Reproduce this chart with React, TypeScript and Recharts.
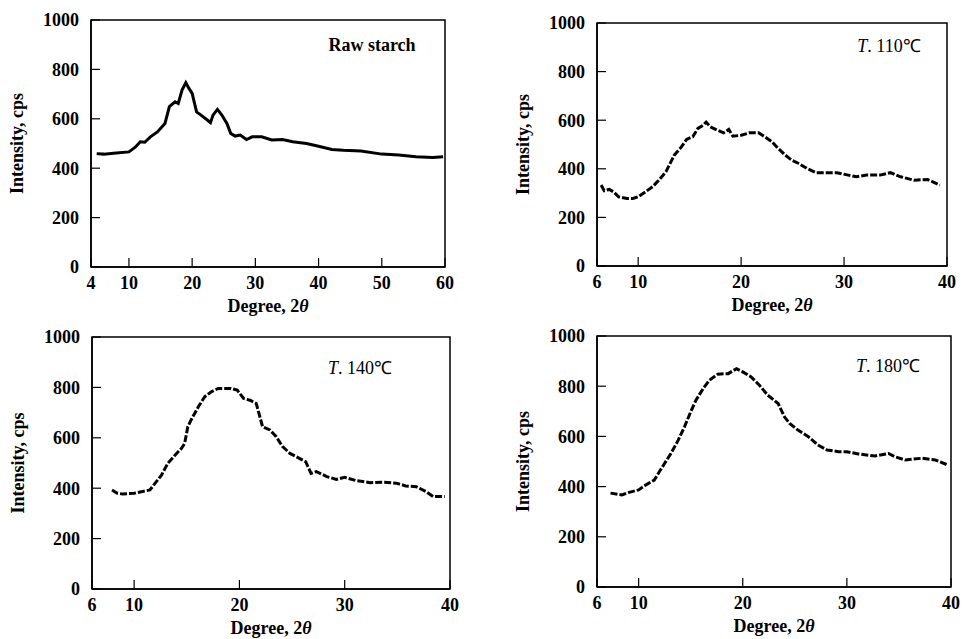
import React from "react"
import { LineChart, Line, XAxis, YAxis, ReferenceArea } from "recharts"

// Raw starch
const rawDeg = [4.9, 6, 8, 10, 11, 11.8, 12.5, 13.4, 14.5, 15.7, 16.4, 17.3, 17.8, 18.4, 19, 19.5, 20, 20.7, 21.4, 22.4, 22.9, 23.3, 24, 24.7, 25.5, 26.1, 26.8, 27.6, 28.6, 29.5, 31, 32.6, 34.3, 35.9, 38.1, 40, 42.1, 43.9, 46.7, 50, 52.7, 55.4, 58.1, 59.7]
const rawCps = [459, 457, 462, 466, 485, 507, 505, 527, 547, 581, 649, 669, 662, 716, 746, 723, 703, 628, 615, 595, 584, 615, 638, 615, 581, 541, 530, 534, 516, 527, 527, 514, 516, 507, 500, 489, 476, 473, 470, 457, 453, 446, 443, 446]

// T. 110
const t110Deg = [6.4, 6.7, 7.2, 7.6, 8.1, 8.9, 9.5, 10, 10.7, 11.4, 12, 12.7, 13.5, 14.2, 14.7, 15.3, 15.8, 16.3, 16.6, 17, 17.7, 18.3, 18.8, 19.2, 20, 20.8, 21.7, 22.3, 23, 23.6, 24.3, 24.9, 25.6, 26.4, 27.3, 27.9, 29.3, 30.4, 31.2, 32.2, 33.5, 34.5, 35.5, 36.8, 38.1, 39.3]
const t110Cps = [333, 310, 315, 305, 285, 278, 278, 285, 305, 326, 353, 388, 456, 490, 521, 532, 566, 579, 592, 573, 559, 548, 562, 534, 538, 548, 548, 532, 511, 484, 456, 436, 422, 401, 384, 384, 384, 374, 367, 374, 374, 384, 367, 353, 356, 333]

// T. 140
const t140Deg = [7.9, 8.4, 8.9, 10, 10.8, 11.5, 12, 12.6, 13.2, 13.9, 14.5, 14.8, 15.1, 15.4, 16.1, 16.7, 17.3, 18, 19.2, 19.8, 20.4, 21, 21.6, 21.9, 22.2, 22.9, 23.5, 24.1, 24.8, 25.4, 26.3, 26.8, 27.3, 28.3, 29.2, 30, 31.1, 32.4, 33.6, 34.9, 35.8, 36.8, 37.7, 38.4, 39.5]
const t140Cps = [393, 380, 377, 380, 387, 393, 420, 452, 499, 532, 558, 578, 644, 670, 723, 763, 782, 796, 796, 789, 756, 749, 736, 690, 644, 631, 604, 565, 538, 525, 505, 459, 466, 446, 435, 443, 430, 422, 424, 420, 409, 406, 387, 367, 367]

// T. 180
const t180Deg = [7.3, 8.4, 9, 10, 10.7, 11.5, 12, 12.5, 13.1, 13.8, 14.4, 15, 15.5, 16.2, 16.8, 17.6, 18.6, 19.4, 20, 20.8, 21.6, 22.4, 23.4, 24, 24.5, 25.3, 26.3, 27.2, 28.1, 29.2, 30, 31.1, 32.7, 34, 34.6, 35.6, 37.2, 38.5, 39.7]
const t180Cps = [374, 367, 376, 387, 407, 426, 460, 493, 532, 585, 638, 698, 744, 791, 824, 848, 850, 870, 857, 837, 804, 764, 731, 678, 652, 625, 599, 566, 546, 539, 539, 530, 522, 532, 519, 506, 513, 506, 486]

const rawTicks = [4, 10, 20, 30, 40, 50, 60]
const heatTicks = [6, 10, 20, 30, 40]
const yTicks = [0, 200, 400, 600, 800, 1000]

const FONT = "'Liberation Serif', 'Times New Roman', serif"
const TICK_LEN = 9
const X_MARGIN = 8
const Y_MARGIN = 12

function XTick(props: any) {
  const { x, y, payload } = props
  const axisY = y - X_MARGIN
  return (
    <g>
      <line x1={x} y1={axisY} x2={x} y2={axisY - TICK_LEN} stroke="#000" strokeWidth={1.2} />
      <text x={x} y={y} dy="0.75em" textAnchor="middle" fontFamily={FONT} fontWeight="bold" fontSize={18} fill="#000">
        {payload.value}
      </text>
    </g>
  )
}

function YTick(props: any) {
  const { x, y, payload } = props
  const axisX = x + Y_MARGIN
  return (
    <g>
      <line x1={axisX} y1={y} x2={axisX + TICK_LEN} y2={y} stroke="#000" strokeWidth={1.2} />
      <text x={x} y={y} dy="0.36em" textAnchor="end" fontFamily={FONT} fontWeight="bold" fontSize={18} fill="#000">
        {payload.value}
      </text>
    </g>
  )
}

// x axis title with italic theta
function DegreeLabel(props: any) {
  const vb = props.viewBox || {}
  const cx = vb.x + vb.width / 2
  return (
    <text x={cx} y={vb.y + 45} textAnchor="middle" fontFamily={FONT} fontWeight="bold" fontSize={18} fill="#000">
      Degree, 2<tspan fontStyle="italic">θ</tspan>
    </text>
  )
}

interface PanelProps {
  deg: number[]
  cps: number[]
  ticks: number[]
  box: [number, number, number, number] // plot x0, x1, y0, y1
  title: React.ReactNode
  titleAt: [number, number]
  dashed?: boolean
}

function Panel({ deg, cps, ticks, box, title, titleAt, dashed }: PanelProps) {
  const [x0, x1, y0, y1] = box
  const data = deg.map((d, i) => ({ deg: d, cps: cps[i] }))
  const left = x0 - 90
  const top = y0 - 15
  const width = x1 - x0 + 115
  const height = y1 - y0 + 15 + 50
  const xMin = ticks[0]
  const xMax = ticks[ticks.length - 1]

  return (
    <>
      <div style={{ position: "absolute", left, top }}>
        <LineChart width={width} height={height} data={data} margin={{ top: 15, right: 25, bottom: 0, left: 10 }}>
          <XAxis
            dataKey="deg"
            type="number"
            domain={[xMin, xMax]}
            ticks={ticks}
            allowDataOverflow
            height={50}
            tickSize={0}
            tickMargin={X_MARGIN}
            tickLine={false}
            tick={<XTick />}
            axisLine={{ stroke: "#000", strokeWidth: 1.5 }}
            label={<DegreeLabel />}
          />
          <YAxis
            type="number"
            domain={[0, 1000]}
            ticks={yTicks}
            width={80}
            tickSize={0}
            tickMargin={Y_MARGIN}
            tickLine={false}
            tick={<YTick />}
            axisLine={{ stroke: "#000", strokeWidth: 1.5 }}
            label={{
              value: "Intensity, cps",
              angle: -90,
              position: "insideLeft",
              offset: 6,
              style: { fontFamily: FONT, fontWeight: "bold", fontSize: 18, fill: "#000", textAnchor: "middle" },
            }}
          />
          <ReferenceArea x1={xMin} x2={xMax} y1={0} y2={1000} fill="none" stroke="#000" strokeWidth={1.5} />
          <Line
            dataKey="cps"
            type="linear"
            stroke="#000"
            strokeWidth={3}
            strokeDasharray={dashed ? "7 2" : undefined}
            dot={false}
            isAnimationActive={false}
          />
        </LineChart>
      </div>
      <div
        style={{
          position: "absolute",
          left: titleAt[0],
          top: titleAt[1],
          transform: "translate(-50%, -50%)",
          fontFamily: FONT,
          fontSize: 18,
          whiteSpace: "nowrap",
          color: "#000",
        }}
      >
        {title}
      </div>
    </>
  )
}

function Temp({ t }: { t: string }) {
  return (
    <span>
      <i>T</i>. {t}℃
    </span>
  )
}

export default function App() {
  return (
    <div style={{ position: "absolute", left: 0, top: 0, width: 964, height: 639, background: "#fff", overflow: "hidden" }}>
      <Panel
        deg={rawDeg}
        cps={rawCps}
        ticks={rawTicks}
        box={[91, 445, 20, 267]}
        title={<b>Raw starch</b>}
        titleAt={[372, 45]}
      />
      <Panel
        deg={t110Deg}
        cps={t110Cps}
        ticks={heatTicks}
        box={[597, 947, 23, 266]}
        title={<Temp t="110" />}
        titleAt={[889, 45]}
        dashed
      />
      <Panel
        deg={t140Deg}
        cps={t140Cps}
        ticks={heatTicks}
        box={[92, 450, 337, 589]}
        title={<Temp t="140" />}
        titleAt={[360, 367]}
        dashed
      />
      <Panel
        deg={t180Deg}
        cps={t180Cps}
        ticks={heatTicks}
        box={[597, 951, 336, 587]}
        title={<Temp t="180" />}
        titleAt={[888, 365]}
        dashed
      />
    </div>
  )
}
